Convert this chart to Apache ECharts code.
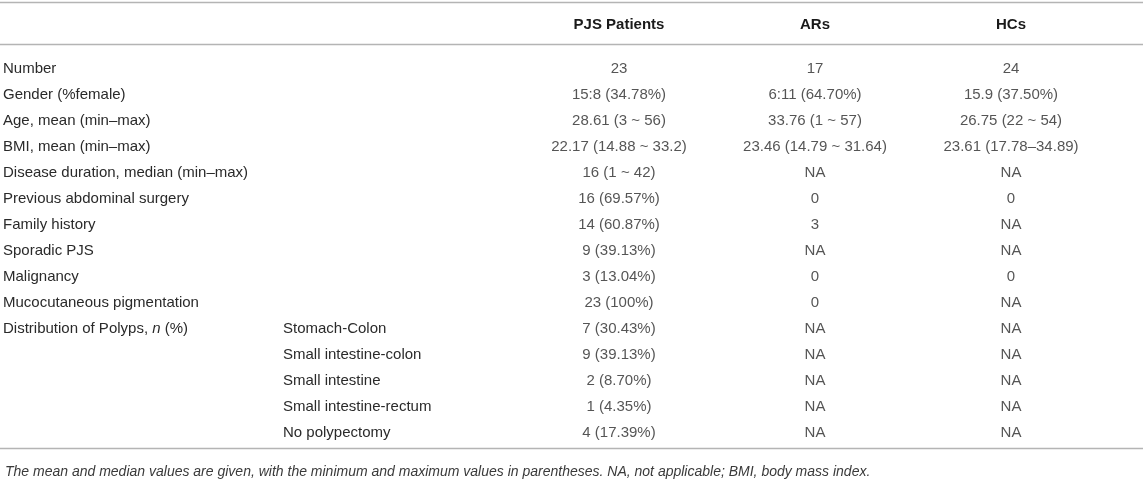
<html style="width: 100%; height: 100%">
<head>
    <meta charset="utf-8">
</head>
<script src="https://cdn.jsdelivr.net/npm/echarts@6/dist/echarts.min.js"></script>
<body style="width: 100%; height: 100%; margin: 0; background: #fff">
<div id="container" style="width: 100%; height: 100%"></div>

<script type="text/javascript">
    // table content
    var columns = ['PJS Patients', 'ARs', 'HCs'];
    var rowLabels = [
        'Number',
        'Gender (%female)',
        'Age, mean (min\u2013max)',
        'BMI, mean (min\u2013max)',
        'Disease duration, median (min\u2013max)',
        'Previous abdominal surgery',
        'Family history',
        'Sporadic PJS',
        'Malignancy',
        'Mucocutaneous pigmentation',
        'Distribution of Polyps, {i|n} (%)',
        '', '', '', ''
    ];
    var subLabels = [
        '', '', '', '', '', '', '', '', '', '',
        'Stomach-Colon',
        'Small intestine-colon',
        'Small intestine',
        'Small intestine-rectum',
        'No polypectomy'
    ];
    var pjs = ['23', '15:8 (34.78%)', '28.61 (3 ~ 56)', '22.17 (14.88 ~ 33.2)', '16 (1 ~ 42)',
        '16 (69.57%)', '14 (60.87%)', '9 (39.13%)', '3 (13.04%)', '23 (100%)',
        '7 (30.43%)', '9 (39.13%)', '2 (8.70%)', '1 (4.35%)', '4 (17.39%)'];
    var ars = ['17', '6:11 (64.70%)', '33.76 (1 ~ 57)', '23.46 (14.79 ~ 31.64)', 'NA',
        '0', '3', 'NA', '0', '0',
        'NA', 'NA', 'NA', 'NA', 'NA'];
    var hcs = ['24', '15.9 (37.50%)', '26.75 (22 ~ 54)', '23.61 (17.78\u201334.89)', 'NA',
        '0', 'NA', 'NA', '0', 'NA',
        'NA', 'NA', 'NA', 'NA', 'NA'];
    var footnote = 'The mean and median values are given, with the minimum and maximum values in parentheses. NA, not applicable; BMI, body mass index.';

    var cells = [pjs, ars, hcs];
    var rowIds = rowLabels.map(function (d, i) { return 'r' + i; });

    var dom = document.getElementById("container");
    var myChart = echarts.init(dom);
    var font = 'Liberation Sans, Arial, Helvetica, sans-serif';
    var txt = '#2a2a2a';
    var fs = 15;
    var ruleColor = '#b4b4b4';

    var series = cells.map(function (col, c) {
        return {
            type: 'scatter',
            name: columns[c],
            symbolSize: 0,
            silent: true,
            data: col.map(function (v, r) { return [c, r]; }),
            label: {
                show: true,
                position: 'inside',
                color: txt,
                fontFamily: font,
                fontSize: fs,
                formatter: function (p) { return cells[c][p.data[1]]; }
            }
        };
    });

    var option = {
        animation: false,
        title: {
            text: footnote,
            left: 0,
            top: 460,
            textStyle: {
                fontFamily: font,
                fontSize: 14,
                fontStyle: 'italic',
                fontWeight: 'normal',
                color: '#3a3a3a'
            }
        },
        grid: {
            left: 521,
            right: 34,
            top: 56,
            bottom: 38
        },
        xAxis: {
            type: 'category',
            position: 'top',
            data: columns,
            axisLine: {show: false},
            axisTick: {show: false},
            splitLine: {show: false},
            axisLabel: {
                margin: 24,
                color: '#1a1a1a',
                fontFamily: font,
                fontSize: fs,
                fontWeight: 'bold'
            }
        },
        yAxis: [
            {
                type: 'category',
                inverse: true,
                position: 'left',
                data: rowIds,
                axisLine: {show: false},
                axisTick: {show: false},
                splitLine: {show: false},
                axisLabel: {
                    align: 'left',
                    margin: 518,
                    color: txt,
                    fontFamily: font,
                    fontSize: fs,
                    formatter: function (v, i) { return rowLabels[i]; },
                    rich: {
                        i: {fontStyle: 'italic', color: txt, fontFamily: font, fontSize: fs}
                    }
                }
            },
            {
                type: 'category',
                inverse: true,
                position: 'left',
                data: rowIds,
                axisLine: {show: false},
                axisTick: {show: false},
                splitLine: {show: false},
                axisLabel: {
                    align: 'left',
                    margin: 238,
                    color: txt,
                    fontFamily: font,
                    fontSize: fs,
                    formatter: function (v, i) { return subLabels[i]; }
                }
            }
        ],
        graphic: [
            {type: 'line', silent: true, shape: {x1: 0, y1: 2.5, x2: 1143, y2: 2.5}, style: {stroke: ruleColor, lineWidth: 1.5}},
            {type: 'line', silent: true, shape: {x1: 0, y1: 44.5, x2: 1143, y2: 44.5}, style: {stroke: ruleColor, lineWidth: 1.5}},
            {type: 'line', silent: true, shape: {x1: 0, y1: 448.5, x2: 1143, y2: 448.5}, style: {stroke: ruleColor, lineWidth: 1.5}}
        ],
        series: series
    };
    myChart.setOption(option);
</script>
</body>

</html>
